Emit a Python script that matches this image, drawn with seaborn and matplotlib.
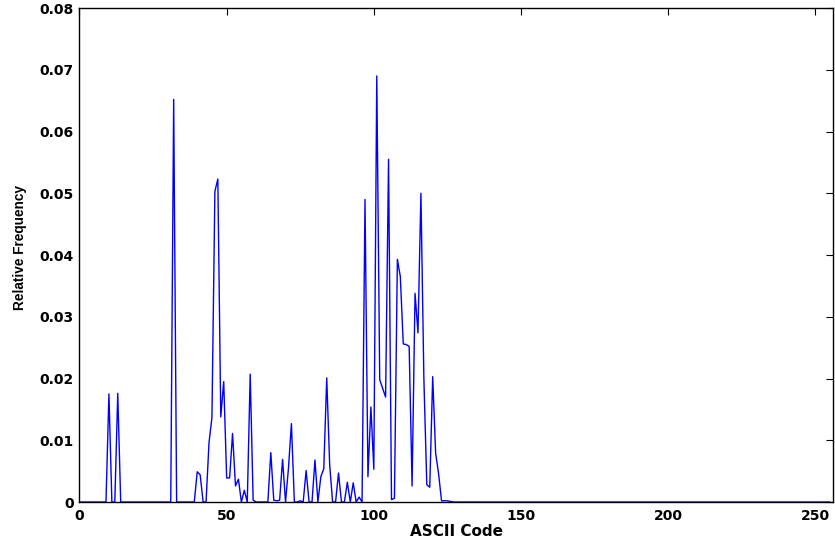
import numpy as np
import pandas as pd
import matplotlib
matplotlib.use("Agg")
import matplotlib.pyplot as plt
import seaborn as sns

# Relative frequency per ASCII code (codes 0..255); codes not listed are 0
codes_nonzero = [10, 13, 32, 40, 41, 44, 45, 46, 47, 48, 49, 50, 51, 52, 53, 54, 56, 58, 59,
                 65, 66, 67, 68, 69, 71, 72, 75, 77, 80, 82, 83, 84, 85, 88, 91, 93, 95,
                 97, 98, 99, 100, 101, 102, 103, 104, 105, 106, 107, 108, 109, 110, 111, 112,
                 113, 114, 115, 116, 117, 118, 119, 120, 121, 122, 123, 124, 125, 126]
freq_nonzero = [0.0175, 0.0176, 0.0652, 0.0049, 0.0044, 0.0096, 0.0137, 0.0503, 0.0523,
                0.0138, 0.0195, 0.0039, 0.0039, 0.0111, 0.0026, 0.0037, 0.0019, 0.0207, 0.0003,
                0.0080, 0.0003, 0.0002, 0.0003, 0.0069, 0.0055, 0.0127, 0.0002, 0.0051, 0.0068,
                0.0041, 0.0054, 0.0201, 0.0060, 0.0047, 0.0032, 0.0031, 0.0008,
                0.0490, 0.0041, 0.0154, 0.0053, 0.0690, 0.0198, 0.0184, 0.0170, 0.0555, 0.0004,
                0.0006, 0.0393, 0.0365, 0.0256, 0.0255, 0.0252,
                0.0026, 0.0338, 0.0274, 0.0500, 0.0200, 0.0028, 0.0024, 0.0203, 0.0079, 0.0046,
                0.0002, 0.0002, 0.0002, 0.0001]

x_ticks = [0, 50, 100, 150, 200, 250]
y_ticks = [0, 0.01, 0.02, 0.03, 0.04, 0.05, 0.06, 0.07, 0.08]
y_tick_labels = ["0", "0.01", "0.02", "0.03", "0.04", "0.05", "0.06", "0.07", "0.08"]

codes = np.arange(256)
freq = np.zeros(256)
freq[codes_nonzero] = freq_nonzero
df = pd.DataFrame({"ASCII Code": codes, "Relative Frequency": freq})

sns.set_style("white")
plt.rcParams["font.family"] = ["DejaVu Sans"]
plt.rcParams["font.weight"] = "bold"
plt.rcParams["text.color"] = "black"
plt.rcParams["axes.labelcolor"] = "black"

fig = plt.figure(figsize=(8.35, 5.48), dpi=100)
ax = fig.add_axes([0.0952, 0.0839, 0.9024, 0.9015])

sns.lineplot(data=df, x="ASCII Code", y="Relative Frequency", ax=ax,
             color="#0000ff", linewidth=1.0)

ax.set_xlim(0, 256)
ax.set_ylim(0, 0.08)
ax.set_xticks(x_ticks)
ax.set_xticklabels([str(t) for t in x_ticks])
ax.set_yticks(y_ticks)
ax.set_yticklabels(y_tick_labels)

ax.tick_params(axis="both", direction="in", length=5, width=0.8, labelsize=10,
               top=True, right=True, colors="black")
ax.tick_params(axis="x", pad=5)
ax.tick_params(axis="y", pad=4)
for lab in ax.get_xticklabels() + ax.get_yticklabels():
    lab.set_fontweight("bold")
    lab.set_family("DejaVu Sans")
    lab.set_color("black")
for sp in ax.spines.values():
    sp.set_visible(True)
    sp.set_color("black")
    sp.set_linewidth(1.0)

ax.set_xlabel("ASCII Code", fontsize=11, fontweight="bold", family="DejaVu Sans",
              labelpad=1, color="black")
ax.set_ylabel("Relative Frequency", fontsize=9.8, fontweight="bold",
              family=["Liberation Sans", "DejaVu Sans"], color="black")
ax.yaxis.set_label_coords(-0.070, 0.515)

fig.savefig("out.png", dpi=100)
